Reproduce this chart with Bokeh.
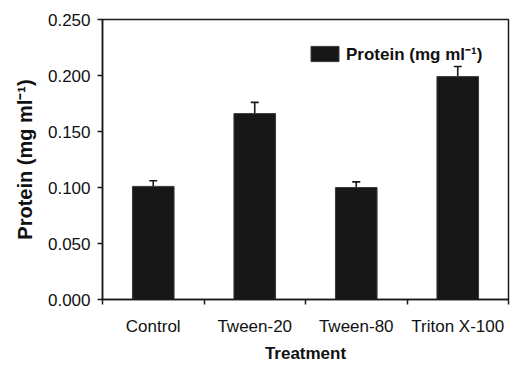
from bokeh.plotting import figure
from bokeh.models import (ColumnDataSource, FixedTicker, NumeralTickFormatter,
                          Range1d, Whisker, TeeHead)
from bokeh.embed import file_html
from bokeh.resources import INLINE

categories = ["Control", "Tween-20", "Tween-80", "Triton X-100"]
protein = [0.101, 0.166, 0.100, 0.199]
errors = [0.005, 0.010, 0.005, 0.009]
y_ticks = [0.0, 0.05, 0.10, 0.15, 0.20, 0.25]
series_label = "Protein (mg ml\u207b\u00b9)"
y_title = "Protein (mg ml\u207b\u00b9)"
x_title = "Treatment"

FONT = "Liberation Sans"
DARK = "#1a1a1a"

xs = [i + 1 for i in range(len(categories))]
src = ColumnDataSource(dict(
    x=xs, top=protein,
    upper=[v + e for v, e in zip(protein, errors)],
))

p = figure(width=510, height=365, output_backend="svg", toolbar_location=None,
           x_range=Range1d(0.5, len(categories) + 0.5), y_range=Range1d(0, 0.25),
           frame_width=406, frame_height=280,
           min_border_left=102, min_border_top=19, min_border_right=2,
           min_border_bottom=66)

p.vbar(x="x", top="top", bottom=0, width=0.41, source=src,
       fill_color="#171717", line_color="#3a3a3a", line_width=1,
       legend_label=series_label)

w = Whisker(base="x", upper="upper", lower="top", source=src,
            line_color=DARK, line_width=1.6,
            upper_head=TeeHead(size=8, line_color=DARK, line_width=1.6),
            lower_head=None)
p.add_layout(w)

p.xgrid.visible = False
p.ygrid.visible = False
p.outline_line_color = DARK
p.outline_line_width = 1.5
p.background_fill_color = "white"
p.border_fill_color = "white"

# x axis
xa = p.xaxis[0]
xa.ticker = FixedTicker(ticks=xs, minor_ticks=[x - 0.5 for x in xs] + [xs[-1] + 0.5])
xa.major_label_overrides = {x: c for x, c in zip(xs, categories)}
xa.major_tick_line_color = None
xa.major_tick_out = 0
xa.major_tick_in = 0
xa.minor_tick_line_color = DARK
xa.minor_tick_line_width = 1.5
xa.minor_tick_out = 5
xa.minor_tick_in = 0
xa.axis_line_color = DARK
xa.axis_line_width = 1.5
xa.major_label_text_font = FONT
xa.major_label_text_font_size = "17px"
xa.major_label_text_color = "#111111"
xa.major_label_standoff = 12
xa.axis_label = x_title
xa.axis_label_text_font = FONT
xa.axis_label_text_font_size = "17px"
xa.axis_label_text_font_style = "bold"
xa.axis_label_text_color = "#111111"
xa.axis_label_standoff = 5

# y axis
ya = p.yaxis[0]
ya.ticker = FixedTicker(ticks=y_ticks, minor_ticks=[])
ya.formatter = NumeralTickFormatter(format="0.000")
ya.major_tick_line_color = DARK
ya.major_tick_line_width = 1.5
ya.major_tick_out = 5
ya.major_tick_in = 0
ya.minor_tick_line_color = None
ya.axis_line_color = DARK
ya.axis_line_width = 1.5
ya.major_label_text_font = FONT
ya.major_label_text_font_size = "17px"
ya.major_label_text_color = "#111111"
ya.major_label_standoff = 7
ya.axis_label = y_title
ya.axis_label_text_font = FONT
ya.axis_label_text_font_size = "20px"
ya.axis_label_text_font_style = "bold"
ya.axis_label_text_color = "#111111"
ya.axis_label_standoff = 9

# legend
lg = p.legend[0]
lg.location = (205, 234)
lg.padding = 0
lg.margin = 0
lg.border_line_color = None
lg.background_fill_alpha = 0
lg.glyph_width = 35
lg.glyph_height = 19
lg.label_height = 19
lg.label_standoff = 4
lg.label_text_font = FONT
lg.label_text_font_size = "17px"
lg.label_text_font_style = "bold"
lg.label_text_color = "#111111"

open("out.html", "w").write(file_html(p, INLINE))
